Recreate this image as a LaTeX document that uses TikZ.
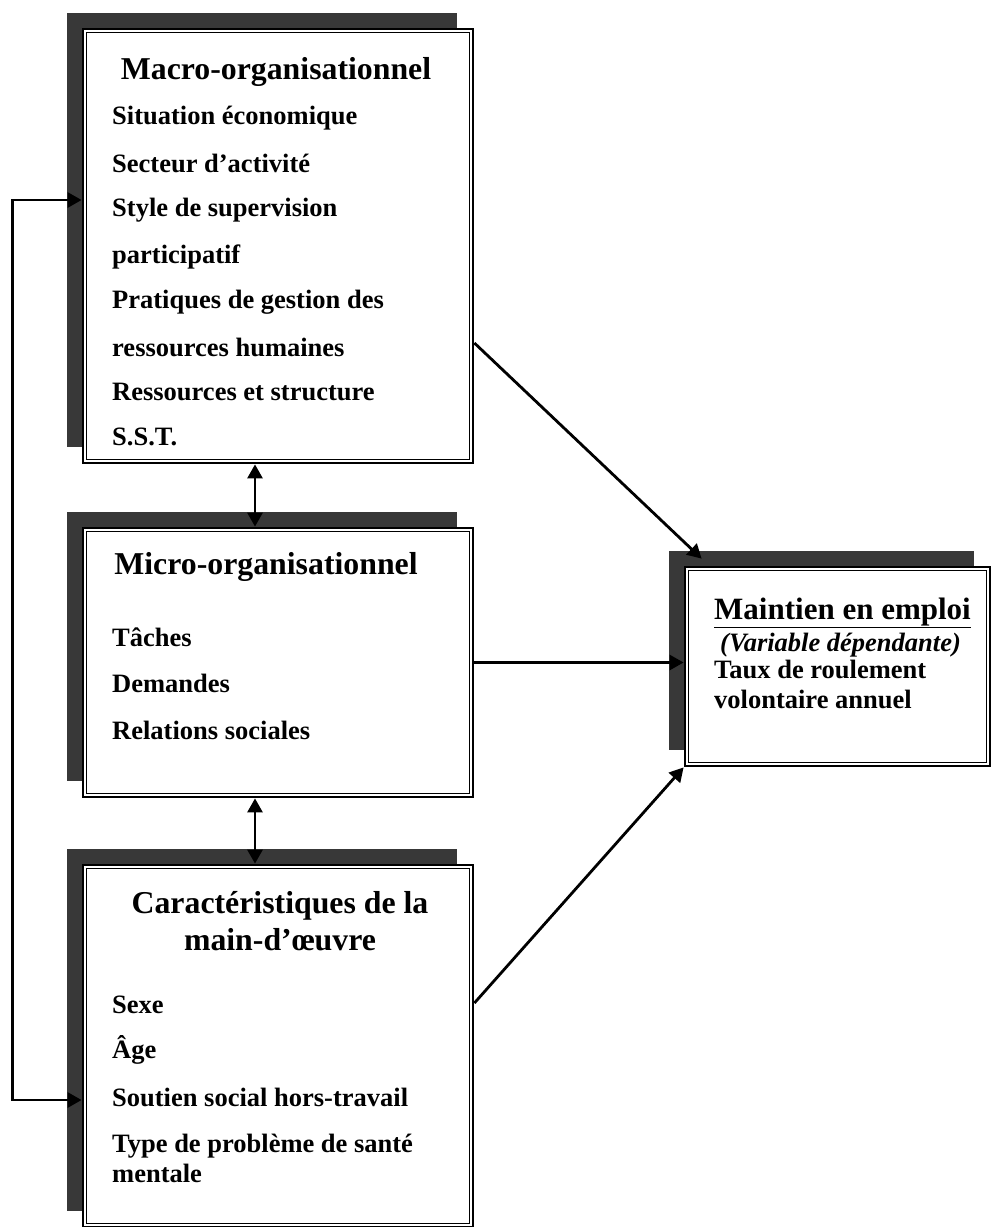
\documentclass[tikz,border=0pt]{standalone}
\usepackage{fontspec}
\setmainfont{Liberation Serif}
\usetikzlibrary{arrows.meta,positioning,shadows}

\begin{document}
\begin{tikzpicture}[x=1pt,y=-1pt,>={Triangle[width=15pt,length=14pt]},
  boxframe/.style={draw,line width=2.8pt,fill=white,inner sep=0pt,
    drop shadow={shadow xshift=-16pt,shadow yshift=16pt,fill=black!78,opacity=1}},
  heading/.style={font=\fontsize{31.8}{37}\selectfont\bfseries,align=center},
  entry/.style={font=\fontsize{26.5}{30}\selectfont\bfseries,anchor=west,inner sep=0pt,align=left},
  link/.style={line width=2.8pt,->},
  twoway/.style={line width=2.8pt,<->}]
  \useasboundingbox (0,0) rectangle (991,1227);
  \node[boxframe,minimum width=390pt,minimum height=434pt] (macro) at (278,246) {};
  \node[boxframe,minimum width=390pt,minimum height=269pt] (micro) at (278,662.5) {};
  \node[boxframe,minimum width=390pt,minimum height=362pt] (carac) at (278,1046) {};
  \node[boxframe,minimum width=305pt,minimum height=199pt] (maint) at (837.5,666.5) {};
  \foreach \b in {macro,micro,carac,maint}
    \draw[line width=1.4pt] ([shift={(4.8pt,-4.8pt)}]\b.north west) rectangle ([shift={(-4.8pt,4.8pt)}]\b.south east);

  \node[heading] (macroh) at (276,72) {Macro-organisationnel};
  \foreach \y/\t [count=\i] in {118/Situation économique,163/Secteur d’activité,210/Style de supervision,
      257/participatif,302/Pratiques de gestion des,347/ressources humaines,392/Ressources et structure,437/S.S.T.}
    \node[entry] (macro\i) at (112,\y) {\t};

  \node[heading] (microh) at (266,567) {Micro-organisationnel};
  \foreach \y/\t [count=\i] in {637/Tâches,683/Demandes,730/Relations sociales}
    \node[entry] (micro\i) at (112,\y) {\t};

  \node[heading] (carach) at (280,921) {Caractéristiques de la\\main-d’œuvre};
  \foreach \y/\t [count=\i] in {1005/Sexe,1050/Âge,1097/Soutien social hors-travail}
    \node[entry] (carac\i) at (112,\y) {\t};
  \node[entry] (carac4) at (112,1158) {Type de problème de santé\\mentale};

  \node[entry,font=\fontsize{31}{37}\selectfont\bfseries] (mainth) at (714,613) {\underline{Maintien en emploi}};
  \node[entry] (maintv) at (720,645) {\textit{(Variable dépendante)}};
  \node[entry] (maint1) at (714,684) {Taux de roulement\\volontaire annuel};

  \draw[link] ([yshift=-97pt]macro.east) -- ([shift={(18pt,7pt)}]maint.north west);
  \draw[link] (micro.east) -- (micro.east -| maint.west);
  \draw[link] ([yshift=43pt]carac.east) -- (maint.south west);
  \draw[twoway] ([xshift=-23pt]macro.south) -- ([xshift=-23pt]micro.north);
  \draw[twoway] ([xshift=-23pt]micro.south) -- ([xshift=-23pt]carac.north);
  \draw[twoway] ([yshift=-54pt]carac.west) -- ++(-69pt,0) |- ([yshift=46pt]macro.west);
\end{tikzpicture}
\end{document}
